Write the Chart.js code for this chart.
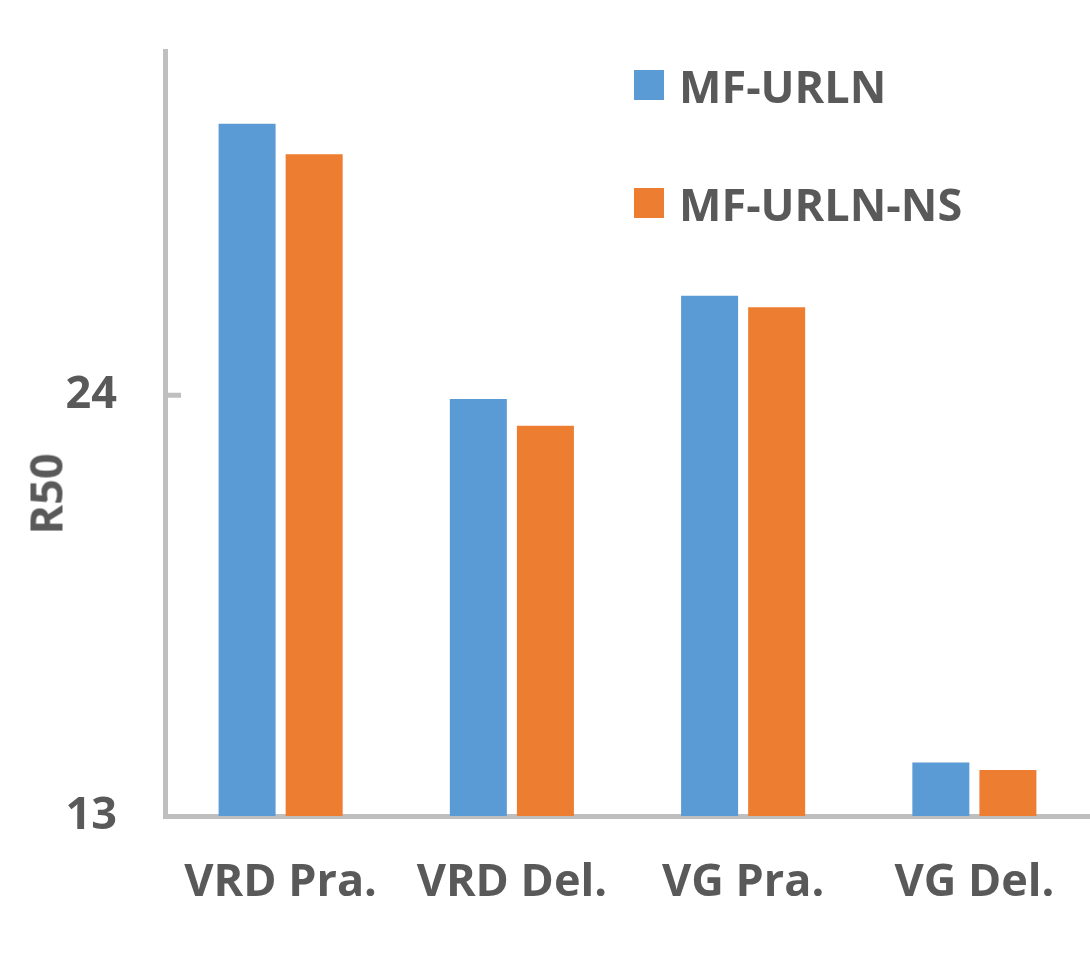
<!DOCTYPE html>
<html>
<head>
<meta charset="utf-8">
<script src="https://cdn.jsdelivr.net/npm/chart.js@4"></script>
<style>
  html, body { margin: 0; padding: 0; background: #fff; }
  .wrap { position: relative; width: 1090px; height: 956px; }
  .legend { position: absolute; left: 634px; top: 60px; font-family: 'Open Sans', sans-serif; font-weight: 700; font-size: 45px; color: #595959; }
  .legend div { display: flex; align-items: center; height: 50px; margin-bottom: 68px; }
  .legend span.box { display: inline-block; width: 30px; height: 30px; margin-right: 15px; }
  .ytitle { position: absolute; left: 45px; top: 494px; transform: translate(-50%, -50%) rotate(-90deg); font-family: 'Open Sans', sans-serif; font-weight: 700; font-size: 45px; color: #595959; white-space: nowrap; }
</style>
</head>
<body>
<div class="wrap">
  <canvas id="chart" width="1090" height="956"></canvas>
  <div class="legend" id="legend"></div>
  <div class="ytitle">R50</div>
</div>
<script>
const categories = ['VRD Pra.', 'VRD Del.', 'VG Pra.', 'VG Del.'];
const mfUrln = [31.1, 23.9, 26.6, 14.4];
const mfUrlnNs = [30.3, 23.2, 26.3, 14.2];
const yTicks = [13, 24];

const textColor = '#595959';
const axisColor = '#bfbfbf';
const font = { family: "'Open Sans', sans-serif", weight: 'bold', size: 45 };

const datasets = [
  { label: 'MF-URLN', data: mfUrln, backgroundColor: '#5b9bd5' },
  { label: 'MF-URLN-NS', data: mfUrlnNs, backgroundColor: '#ed7d31' },
];

// little tick mark inside the axis at each labelled value
const innerTicks = {
  id: 'innerTicks',
  afterDraw(chart) {
    const y = chart.scales.y;
    const ctx = chart.ctx;
    ctx.save();
    ctx.strokeStyle = axisColor;
    ctx.lineWidth = 5;
    yTicks.forEach(v => {
      if (v === y.min) return;
      const py = y.getPixelForValue(v);
      ctx.beginPath();
      ctx.moveTo(chart.chartArea.left + 2, py);
      ctx.lineTo(chart.chartArea.left + 16, py);
      ctx.stroke();
    });
    ctx.restore();
  }
};

new Chart(document.getElementById('chart').getContext('2d'), {
  type: 'bar',
  data: { labels: categories, datasets: datasets },
  options: {
    responsive: false,
    animation: false,
    layout: { padding: { top: 51, right: 0, left: 0, bottom: 0 } },
    datasets: { bar: { categoryPercentage: 0.58, barPercentage: 0.85 } },
    plugins: { legend: { display: false }, tooltip: { enabled: false } },
    scales: {
      x: {
        grid: { display: false },
        border: { color: axisColor, width: 5 },
        ticks: { color: textColor, font: font, padding: 32, maxRotation: 0 },
        afterFit: (s) => { s.height = 140; }
      },
      y: {
        min: 13,
        max: 33,
        grid: { display: false },
        border: { color: axisColor, width: 5 },
        ticks: { color: textColor, font: font, padding: 40 },
        afterBuildTicks: (s) => { s.ticks = yTicks.map(v => ({ value: v })); },
        afterFit: (s) => { s.width = 165; s.paddingTop = 0; s.paddingBottom = 0; }
      }
    }
  },
  plugins: [innerTicks]
});

const legend = document.getElementById('legend');
datasets.forEach(d => {
  const row = document.createElement('div');
  row.innerHTML = '<span class="box" style="background:' + d.backgroundColor + '"></span>' + d.label;
  legend.appendChild(row);
});
</script>
</body>
</html>
